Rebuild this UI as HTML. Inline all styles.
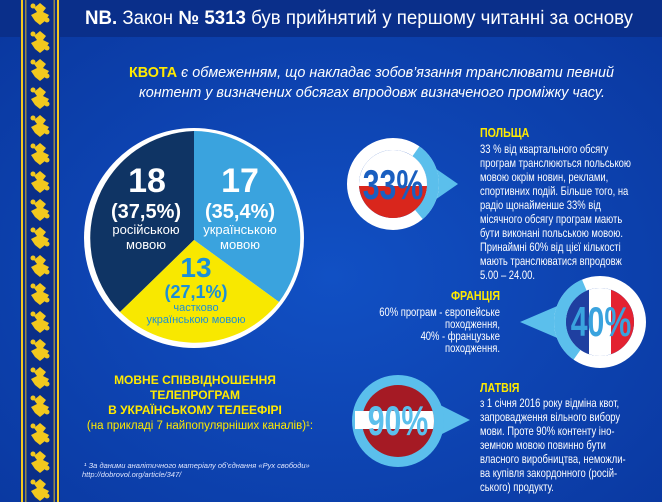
<!DOCTYPE html>
<html><head><meta charset="utf-8"><style>
html,body{margin:0;padding:0}
body{width:662px;height:502px;overflow:hidden;background:#0d44b3;font-family:"Liberation Sans",sans-serif}
svg{display:block}
</style></head><body>
<svg width="662" height="502" viewBox="0 0 662 502" xmlns="http://www.w3.org/2000/svg" font-family="Liberation Sans, sans-serif">
<defs>
<radialGradient id="bg" cx="50%" cy="55%" r="70%"><stop offset="0" stop-color="#1150c4"/><stop offset="1" stop-color="#0a38a0"/></radialGradient>
<pattern id="orn" width="40" height="28" patternUnits="userSpaceOnUse" x="20" y="0">
<rect x="1" width="2" height="28" fill="#f2c81e"/><rect x="37" width="2" height="28" fill="#f2c81e"/>
<rect x="5" y="0" width="1.5" height="28" fill="#f2c81e" opacity=".6"/><rect x="33.5" y="0" width="1.5" height="28" fill="#f2c81e" opacity=".6"/>
<path d="M20 3 L26 8 L23 12 L29 15 L25 21 L20 25 L15 21 L11 15 L17 12 L14 8 Z" fill="#f2c81e"/>
<circle cx="13" cy="6" r="2.5" fill="#f2c81e"/><circle cx="27" cy="20" r="2.5" fill="#f2c81e"/>
</pattern>
</defs>
<rect width="662" height="502" fill="url(#bg)"/>
<rect width="662" height="37" fill="#0a2f8a"/>
<rect x="20" y="0" width="40" height="502" fill="#0b2f88"/>
<rect x="20" y="0" width="40" height="502" fill="url(#orn)"/>

<text x="85" y="24" fill="#fff" font-size="19" textLength="548" lengthAdjust="spacingAndGlyphs"><tspan font-weight="bold">NB.</tspan> Закон  <tspan font-weight="bold">№ 5313</tspan>  був прийнятий у першому читанні  за основу</text>
<text x="129" y="77" fill="#fff" font-size="15" font-style="italic" textLength="485" lengthAdjust="spacingAndGlyphs"><tspan fill="#ffea00" font-weight="bold" font-style="normal">КВОТА</tspan> є обмеженням, що накладає зобов’язання транслювати певний</text>
<text x="139" y="97" fill="#fff" font-size="15" font-style="italic" textLength="466" lengthAdjust="spacingAndGlyphs">контент у визначених обсягах впродовж визначеного проміжку часу.</text>

<!-- pie -->
<circle cx="194" cy="238" r="110" fill="#fff"/>
<path d="M194 240 L194 131 A107 107 0 0 0 120 312 Z" fill="#0f3464"/>
<path d="M194 240 L194 131 A107 107 0 0 1 279 302 Z" fill="#3aa3de"/>
<path d="M194 240 L279 302 A107 107 0 0 1 120 312 Z" fill="#f8e800"/>
<g text-anchor="middle">
<text x="147" y="192" fill="#fff" font-size="34" font-weight="bold">18</text>
<text x="146" y="218" fill="#fff" font-size="20" font-weight="bold">(37,5%)</text>
<text x="146" y="234" fill="#fff" font-size="13">російською</text>
<text x="146" y="249" fill="#fff" font-size="13">мовою</text>
<text x="240" y="192" fill="#fff" font-size="34" font-weight="bold">17</text>
<text x="240" y="218" fill="#fff" font-size="20" font-weight="bold">(35,4%)</text>
<text x="240" y="234" fill="#fff" font-size="13">українською</text>
<text x="240" y="249" fill="#fff" font-size="13">мовою</text>
<text x="196" y="277" fill="#1b8fd8" font-size="28" font-weight="bold">13</text>
<text x="196" y="298" fill="#1b8fd8" font-size="18" font-weight="bold">(27,1%)</text>
<text x="196" y="311" fill="#1b8fd8" font-size="11">частково</text>
<text x="196" y="323" fill="#1b8fd8" font-size="11">українською мовою</text>
</g>
<g text-anchor="middle" fill="#ffea00">
<text x="195" y="384" font-size="12" font-weight="bold">МОВНЕ СПІВВІДНОШЕННЯ</text>
<text x="195" y="399" font-size="12" font-weight="bold">ТЕЛЕПРОГРАМ</text>
<text x="195" y="414" font-size="12" font-weight="bold">В УКРАЇНСЬКОМУ ТЕЛЕЕФІРІ</text>
<text x="200" y="429" font-size="11.5">(на прикладі  7 найпопулярніших каналів)¹:</text>
</g>
<text x="84" y="468" fill="#dfe6ff" font-size="7.5" font-style="italic">¹ За даними аналітичного матеріалу об’єднання «Рух свободи»</text>
<text x="82" y="477" fill="#dfe6ff" font-size="7.5" font-style="italic">http://dobrovol.org/article/347/</text>

<!-- Poland -->
<path d="M432 166 L458 184 L432 202 Z" fill="#5bbfec"/>
<circle cx="393" cy="184" r="40" fill="none" stroke="#fff" stroke-width="12"/>
<circle cx="393" cy="184" r="40" fill="none" stroke="#5bbfec" stroke-width="12" stroke-dasharray="73 300" transform="rotate(-55 393 184)"/>
<clipPath id="c1"><circle cx="393" cy="184" r="34"/></clipPath>
<g clip-path="url(#c1)"><rect x="355" y="148" width="80" height="38" fill="#fff"/><rect x="355" y="186" width="80" height="40" fill="#d9261c"/></g>
<text transform="translate(393 199) scale(0.72 1)" text-anchor="middle" fill="#1a5fc0" font-size="42" font-weight="bold">33%</text>

<g transform="translate(480 0) scale(0.82 1)" fill="#fff" font-size="11.5">
<text x="0" y="137" fill="#ffea00" font-weight="bold" font-size="13">ПОЛЬЩА</text>
<text x="0" y="153">33 % від квартального обсягу</text>
<text x="0" y="167">програм транслюються польською</text>
<text x="0" y="181">мовою окрім новин, реклами,</text>
<text x="0" y="195">спортивних подій. Більше того, на</text>
<text x="0" y="209">радіо щонайменше 33% від</text>
<text x="0" y="223">місячного обсягу програм мають</text>
<text x="0" y="237">бути виконані польською мовою.</text>
<text x="0" y="251">Принаймні 60% від цієї кількості</text>
<text x="0" y="265">мають транслюватися впродовж</text>
<text x="0" y="279">5.00 – 24.00.</text>
</g>

<!-- France -->
<path d="M562 304 L520 322 L562 340 Z" fill="#5bbfec"/>
<circle cx="600" cy="322" r="40" fill="none" stroke="#fff" stroke-width="12"/>
<circle cx="600" cy="322" r="40" fill="none" stroke="#5bbfec" stroke-width="12" stroke-dasharray="85 300" transform="rotate(125 600 322)"/>
<clipPath id="c2"><circle cx="600" cy="322" r="34"/></clipPath>
<g clip-path="url(#c2)"><rect x="560" y="285" width="29" height="75" fill="#1f3fa0"/><rect x="589" y="285" width="22" height="75" fill="#fff"/><rect x="611" y="285" width="30" height="75" fill="#e32231"/></g>
<text transform="translate(601 336) scale(0.72 1)" text-anchor="middle" fill="#3aa3de" font-size="42" font-weight="bold">40%</text>
<g transform="translate(500 0) scale(0.82 1)" fill="#fff" font-size="11.5" text-anchor="end">
<text x="0" y="300" fill="#ffea00" font-weight="bold" font-size="13">ФРАНЦІЯ</text>
<text x="0" y="316">60% програм - європейське</text>
<text x="0" y="328">походження,</text>
<text x="0" y="340">40%  - французьке</text>
<text x="0" y="352">походження.</text>
</g>

<!-- Latvia -->
<path d="M436 403 L470 420 L436 437 Z" fill="#5bbfec"/>
<circle cx="398" cy="421" r="46" fill="#5bbfec"/>
<clipPath id="c3"><circle cx="398" cy="421" r="36"/></clipPath>
<g clip-path="url(#c3)"><rect x="360" y="384" width="80" height="76" fill="#a51a24"/><rect x="350" y="411" width="100" height="18" fill="#fff"/></g>
<rect x="355" y="411" width="10" height="18" fill="#fff"/>
<text transform="translate(398 435) scale(0.72 1)" text-anchor="middle" fill="#5bbfec" font-size="42" font-weight="bold">90%</text>
<g transform="translate(480 0) scale(0.82 1)" fill="#fff" font-size="11.5">
<text x="0" y="392" fill="#ffea00" font-weight="bold" font-size="13">ЛАТВІЯ</text>
<text x="0" y="407">з 1 січня 2016 року відміна квот,</text>
<text x="0" y="421">запровадження вільного вибору</text>
<text x="0" y="435">мови. Проте 90% контенту іно-</text>
<text x="0" y="449">земною мовою повинно бути</text>
<text x="0" y="463">власного виробництва, неможли-</text>
<text x="0" y="477">ва купівля закордонного (росій-</text>
<text x="0" y="491">ського) продукту.</text>
</g>
</svg>
</body></html>
